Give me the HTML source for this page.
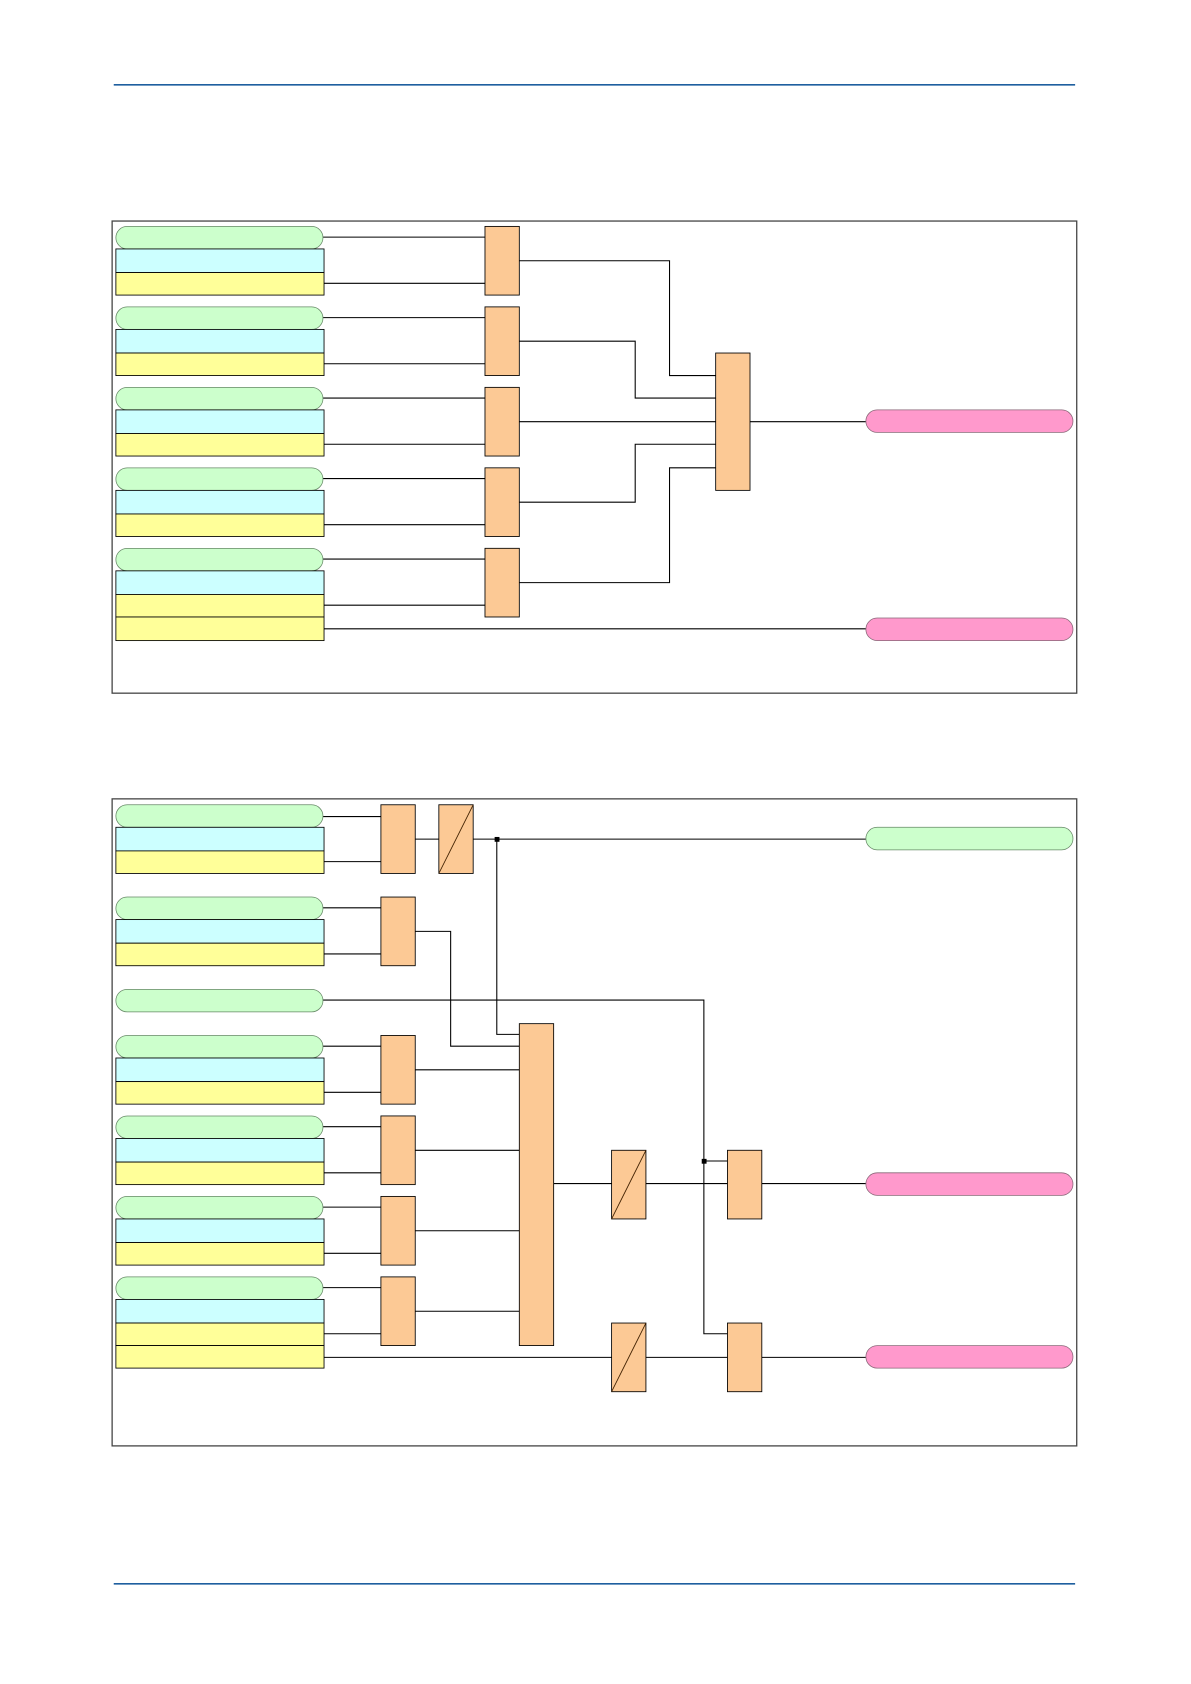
<!DOCTYPE html>
<html><head><meta charset="utf-8"><style>html,body{margin:0;padding:0;background:#fff}svg{display:block}</style></head>
<body>
<svg width="1191" height="1684" viewBox="0 0 1110 1569.4" preserveAspectRatio="none" xmlns="http://www.w3.org/2000/svg">
<defs>
<g id="grp">
<rect x="108" y="0" width="193" height="21" rx="10.5" fill="#ccffcc" stroke="#668866" stroke-width="0.7"/>
<rect x="108" y="21" width="194" height="22" fill="#ccffff" stroke="#000" stroke-width="0.8"/>
<rect x="108" y="43" width="194" height="21" fill="#ffff99" stroke="#000" stroke-width="0.8"/>
</g>
</defs>
<line x1="106" y1="79" x2="1002" y2="79" stroke="#1f5f9f" stroke-width="1.5"/>
<line x1="106" y1="1476" x2="1002" y2="1476" stroke="#1f5f9f" stroke-width="1.5"/>

<!-- Diagram 1 -->
<rect x="104.5" y="206" width="899" height="440" fill="none" stroke="#444" stroke-width="1.2"/>
<g stroke="#000" stroke-width="1" fill="none">
<path d="M301 221H452M302 264H452M301 296H452M302 339H452M301 371H452M302 414H452M301 446H452M302 489H452M301 521H452M302 564H452M302 586H807"/>
<path d="M484 243H624V350H667M484 318H592V371H667M484 393H667M484 468H592V414H667M484 543H624V436H667M699 393H807"/>
</g>
<use href="#grp" y="211"/><use href="#grp" y="286"/><use href="#grp" y="361"/><use href="#grp" y="436"/><use href="#grp" y="511"/>
<rect x="108" y="575" width="194" height="22" fill="#ffff99" stroke="#000" stroke-width="0.8"/>
<g fill="#fcc995" stroke="#000" stroke-width="0.8">
<rect x="452" y="211" width="32" height="64"/><rect x="452" y="286" width="32" height="64"/><rect x="452" y="361" width="32" height="64"/><rect x="452" y="436" width="32" height="64"/><rect x="452" y="511" width="32" height="64"/>
<rect x="667" y="329" width="32" height="128"/>
</g>
<g fill="#ff99cc" stroke="#886677" stroke-width="0.7">
<rect x="807" y="382" width="193" height="21" rx="10.5"/><rect x="807" y="576" width="193" height="21" rx="10.5"/>
</g>

<!-- Diagram 2 -->
<rect x="104.5" y="744.5" width="899" height="603" fill="none" stroke="#444" stroke-width="1.2"/>
<g stroke="#000" stroke-width="1" fill="none">
<path d="M301 761H355M302 803H355M387 782H409M441 782H807M463 782V964H484"/>
<path d="M301 846H355M302 889H355M387 868H420V975H484"/>
<path d="M301 932H656V1243H678M656 1082H678"/>
<path d="M301 975H355M302 1018H355M387 997H484M301 1050H355M302 1093H355M387 1072H484M301 1125H355M302 1168H355M387 1147H484M301 1200H355M302 1243H355M387 1222H484"/>
<path d="M302 1265H570M516 1103H570M602 1103H678M710 1103H807M602 1265H678M710 1265H807"/>
</g>
<use href="#grp" y="750"/><use href="#grp" y="836"/>
<rect x="108" y="922" width="193" height="21" rx="10.5" fill="#ccffcc" stroke="#668866" stroke-width="0.7"/>
<use href="#grp" y="965"/><use href="#grp" y="1040"/><use href="#grp" y="1115"/><use href="#grp" y="1190"/>
<rect x="108" y="1254" width="194" height="21" fill="#ffff99" stroke="#000" stroke-width="0.8"/>
<g fill="#fcc995" stroke="#000" stroke-width="0.8">
<rect x="355" y="750" width="32" height="64"/><rect x="355" y="836" width="32" height="64"/>
<rect x="355" y="965" width="32" height="64"/><rect x="355" y="1040" width="32" height="64"/><rect x="355" y="1115" width="32" height="64"/><rect x="355" y="1190" width="32" height="64"/>
<rect x="409" y="750" width="32" height="64"/>
<rect x="484" y="954" width="32" height="300"/>
<rect x="570" y="1072" width="32" height="64"/><rect x="570" y="1233" width="32" height="64"/>
<rect x="678" y="1072" width="32" height="64"/><rect x="678" y="1233" width="32" height="64"/>
</g>
<g stroke="#402000" stroke-width="0.8">
<line x1="409" y1="814" x2="441" y2="750"/><line x1="570" y1="1136" x2="602" y2="1072"/><line x1="570" y1="1297" x2="602" y2="1233"/>
</g>
<rect x="461" y="780" width="4.5" height="4.5" fill="#000"/>
<rect x="654" y="1080" width="4.5" height="4.5" fill="#000"/>
<rect x="807" y="771" width="193" height="21" rx="10.5" fill="#ccffcc" stroke="#668866" stroke-width="0.7"/>
<g fill="#ff99cc" stroke="#886677" stroke-width="0.7">
<rect x="807" y="1093" width="193" height="21" rx="10.5"/><rect x="807" y="1254" width="193" height="21" rx="10.5"/>
</g>
</svg>
</body></html>
